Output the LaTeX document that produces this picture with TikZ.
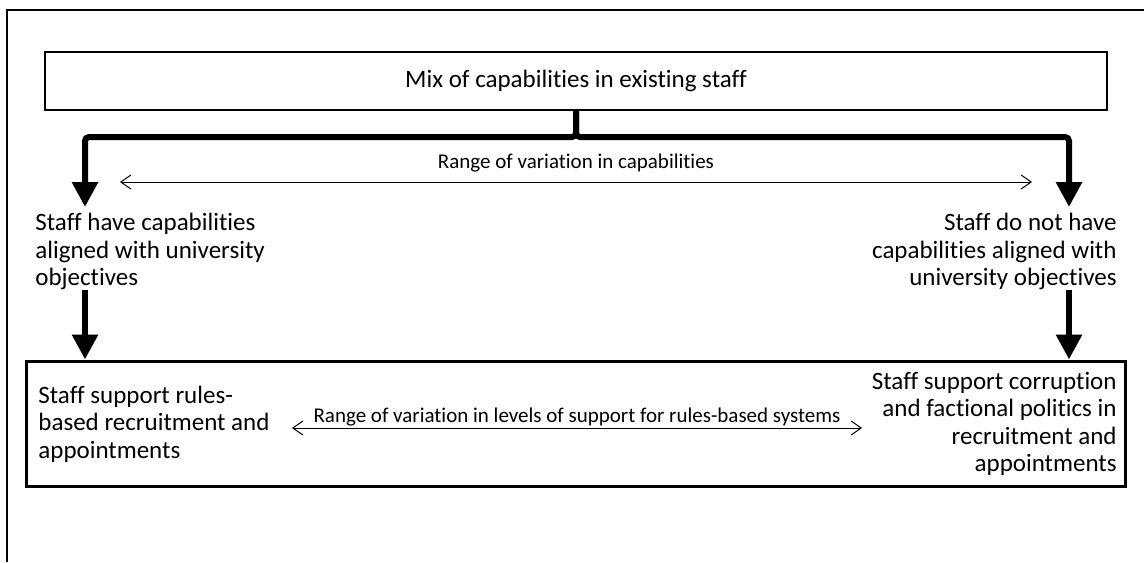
\documentclass[tikz,border=0pt]{standalone}
\usepackage{fontspec}
\setmainfont{Carlito}[Ligatures = NoCommon]
\usetikzlibrary{arrows.meta}

\begin{document}
\begin{tikzpicture}[x = .5pt, y = -.5pt,
        staff/.style = {inner sep = 0, font = \fontsize{12.5}{13.75}\selectfont},
        rangelabel/.style = {inner sep = 0, font = \fontsize{10.5}{12}\selectfont},
        bigarrow/.style = {line width = 3pt, -{Triangle[width = 12.5pt, length = 12.5pt]}},
        rangearrow/.style = {line width = .5pt, {Straight Barb[length = 5pt, width = 7pt]}-{Straight Barb[length = 5pt, width = 7pt]}}]
    \useasboundingbox (0, 0) rectangle (1144, 562);
    \draw [line width = 1.25pt] (7, 562) -- (7, 10) -- (1144, 10);
    % top box and the two ends of the range
    \node [staff, draw, line width = 1pt, minimum width = 531pt, minimum height = 29pt] (mix) at (576, 81) {Mix of capabilities in existing staff};
    \node [staff, align = left, anchor = north west] (haveCap) at (35, 213) {Staff have capabilities\\aligned with university\\objectives};
    \node [staff, align = right, anchor = north east] (notCap) at (1117, 213) {Staff do not have\\capabilities aligned with\\university objectives};
    \coordinate (haveTip) at (85, 207);
    \coordinate (notTip) at (1069, 207);
    \draw [bigarrow, rounded corners = 2pt] (mix.south) -- ++(0, 26) -| (haveTip);
    \draw [bigarrow, rounded corners = 2pt] (mix.south) -- ++(0, 26) -| (notTip);
    \coordinate (capL) at (120, 182);
    \coordinate (capR) at (1032, 182);
    \draw [rangearrow] (capL) -- (capR);
    \node [rangelabel] (capRange) at (576, 163) {Range of variation in capabilities};
    % bottom box
    \node [draw, line width = 1.5pt, minimum width = 549.5pt, minimum height = 62.5pt] (support) at (575.5, 423.5) {};
    \node [staff, align = left, anchor = west] (rulesText) at (38, 424) {Staff support rules-\\based recruitment and\\appointments};
    \node [staff, align = right, anchor = east] (corruptText) at (1117, 424) {Staff support corruption\\and factional politics in\\recruitment and\\appointments};
    \draw [bigarrow] (haveCap.south -| haveTip) -- (support.north -| haveTip);
    \draw [bigarrow] (notCap.south -| notTip) -- (support.north -| notTip);
    \coordinate (supL) at (292, 428);
    \coordinate (supR) at (862, 428);
    \draw [rangearrow] (supL) -- (supR);
    \node [rangelabel] (supRange) at (577, 417) {Range of variation in levels of support for rules-based systems};
\end{tikzpicture}
\end{document}
